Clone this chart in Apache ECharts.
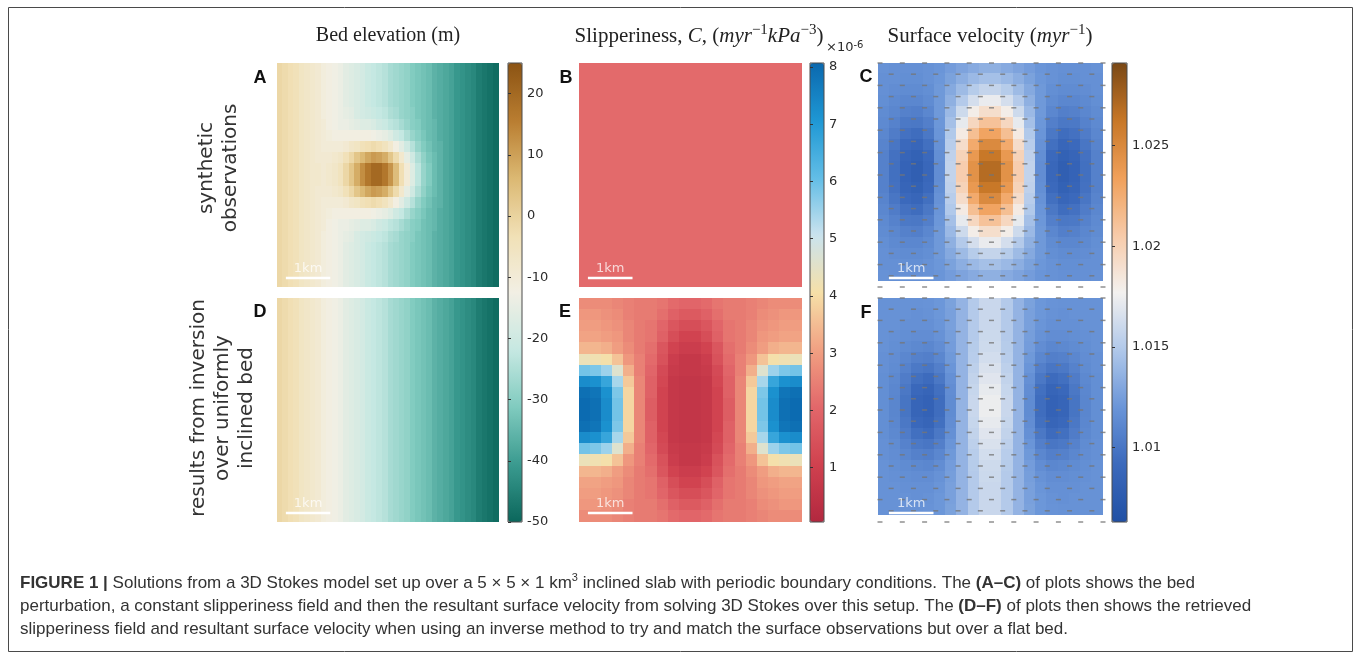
<!DOCTYPE html>
<html><head><meta charset="utf-8">
<script src="https://cdn.jsdelivr.net/npm/echarts@6/dist/echarts.min.js"></script>
<style>html,body{margin:0;padding:0;background:#fff}#chart{width:1360px;height:654px}</style>
</head><body><div id="chart"></div>
<script>
// ---------------- DATA ----------------
// Bed elevation (m), synthetic observations: 40 columns x 20 rows (row 0 = top)
const bedElevationObs = [
[-1,-2,-3,-4,-6,-7,-8,-9,-11,-12,-13,-14,-16,-17,-18,-19,-21,-22,-23,-24,-26,-27,-28,-29,-31,-32,-33,-34,-36,-37,-38,-39,-41,-42,-43,-44,-46,-47,-48,-49],
[-1,-2,-3,-4,-6,-7,-8,-9,-11,-12,-13,-14,-16,-17,-18,-19,-21,-22,-23,-24,-26,-27,-28,-29,-31,-32,-33,-34,-36,-37,-38,-39,-41,-42,-43,-44,-46,-47,-48,-49],
[-1,-2,-3,-4,-6,-7,-8,-9,-11,-12,-13,-14,-16,-17,-18,-19,-21,-22,-23,-24,-26,-27,-28,-29,-31,-32,-33,-34,-36,-37,-38,-39,-41,-42,-43,-44,-46,-47,-48,-49],
[-1,-2,-3,-4,-6,-7,-8,-9,-11,-12,-13,-14,-16,-17,-18,-19,-21,-22,-23,-24,-26,-27,-28,-29,-31,-32,-33,-34,-36,-37,-38,-39,-41,-42,-43,-44,-46,-47,-48,-49],
[-1,-2,-3,-4,-6,-7,-8,-9,-11,-12,-13,-14,-15,-16,-18,-19,-20,-21,-22,-23,-25,-26,-28,-29,-30,-32,-33,-34,-36,-37,-38,-39,-41,-42,-43,-44,-46,-47,-48,-49],
[-1,-2,-3,-4,-6,-7,-8,-9,-10,-12,-13,-14,-14,-15,-16,-17,-17,-18,-20,-21,-23,-24,-26,-28,-30,-31,-33,-34,-35,-37,-38,-39,-41,-42,-43,-44,-46,-47,-48,-49],
[-1,-2,-3,-4,-6,-7,-8,-9,-10,-11,-12,-12,-12,-12,-12,-12,-12,-13,-14,-15,-17,-20,-22,-25,-28,-30,-32,-34,-35,-37,-38,-39,-41,-42,-43,-44,-46,-47,-48,-49],
[-1,-2,-3,-4,-6,-7,-8,-9,-10,-10,-10,-10,-9,-7,-6,-4,-3,-2,-3,-5,-8,-12,-16,-20,-24,-28,-31,-33,-35,-36,-38,-39,-41,-42,-43,-44,-46,-47,-48,-49],
[-1,-2,-3,-4,-6,-7,-8,-9,-9,-9,-8,-7,-4,-1,3,6,9,11,10,8,3,-2,-8,-15,-20,-25,-29,-32,-34,-36,-38,-39,-41,-42,-43,-44,-46,-47,-48,-49],
[-1,-2,-3,-4,-6,-7,-8,-8,-9,-8,-7,-5,-1,3,8,13,17,20,20,17,12,5,-3,-10,-17,-23,-28,-31,-34,-36,-38,-39,-41,-42,-43,-44,-46,-47,-48,-49],
[-1,-2,-3,-4,-6,-7,-8,-8,-9,-8,-7,-5,-1,3,8,13,17,20,20,17,12,5,-3,-10,-17,-23,-28,-31,-34,-36,-38,-39,-41,-42,-43,-44,-46,-47,-48,-49],
[-1,-2,-3,-4,-6,-7,-8,-9,-9,-9,-8,-7,-4,-1,3,6,9,11,10,8,3,-2,-8,-15,-20,-25,-29,-32,-34,-36,-38,-39,-41,-42,-43,-44,-46,-47,-48,-49],
[-1,-2,-3,-4,-6,-7,-8,-9,-10,-10,-10,-10,-9,-7,-6,-4,-3,-2,-3,-5,-8,-12,-16,-20,-24,-28,-31,-33,-35,-36,-38,-39,-41,-42,-43,-44,-46,-47,-48,-49],
[-1,-2,-3,-4,-6,-7,-8,-9,-10,-11,-12,-12,-12,-12,-12,-12,-12,-13,-14,-15,-17,-20,-22,-25,-28,-30,-32,-34,-35,-37,-38,-39,-41,-42,-43,-44,-46,-47,-48,-49],
[-1,-2,-3,-4,-6,-7,-8,-9,-10,-12,-13,-14,-14,-15,-16,-17,-17,-18,-20,-21,-23,-24,-26,-28,-30,-31,-33,-34,-35,-37,-38,-39,-41,-42,-43,-44,-46,-47,-48,-49],
[-1,-2,-3,-4,-6,-7,-8,-9,-11,-12,-13,-14,-15,-16,-18,-19,-20,-21,-22,-23,-25,-26,-28,-29,-30,-32,-33,-34,-36,-37,-38,-39,-41,-42,-43,-44,-46,-47,-48,-49],
[-1,-2,-3,-4,-6,-7,-8,-9,-11,-12,-13,-14,-16,-17,-18,-19,-21,-22,-23,-24,-26,-27,-28,-29,-31,-32,-33,-34,-36,-37,-38,-39,-41,-42,-43,-44,-46,-47,-48,-49],
[-1,-2,-3,-4,-6,-7,-8,-9,-11,-12,-13,-14,-16,-17,-18,-19,-21,-22,-23,-24,-26,-27,-28,-29,-31,-32,-33,-34,-36,-37,-38,-39,-41,-42,-43,-44,-46,-47,-48,-49],
[-1,-2,-3,-4,-6,-7,-8,-9,-11,-12,-13,-14,-16,-17,-18,-19,-21,-22,-23,-24,-26,-27,-28,-29,-31,-32,-33,-34,-36,-37,-38,-39,-41,-42,-43,-44,-46,-47,-48,-49],
[-1,-2,-3,-4,-6,-7,-8,-9,-11,-12,-13,-14,-16,-17,-18,-19,-21,-22,-23,-24,-26,-27,-28,-29,-31,-32,-33,-34,-36,-37,-38,-39,-41,-42,-43,-44,-46,-47,-48,-49]
];
// Bed elevation used for the inversion: uniformly inclined, constant along y (one row, 40 columns)
const bedElevationInv = [-1,-2,-3,-4,-6,-7,-8,-9,-11,-12,-13,-14,-16,-17,-18,-19,-21,-22,-23,-24,-26,-27,-28,-29,-31,-32,-33,-34,-36,-37,-38,-39,-41,-42,-43,-44,-46,-47,-48,-49];
// Slipperiness (x1e-6), synthetic: constant field
const slipperinessObs = 2.1;
// Slipperiness (x1e-6), retrieved by inversion: 20 x 20
const slipperinessInv = [
[2.7,2.7,2.7,2.6,2.5,2.4,2.4,2.3,2.1,2.0,2.0,2.1,2.3,2.4,2.4,2.5,2.6,2.7,2.7,2.7],
[2.9,2.9,2.8,2.7,2.5,2.4,2.4,2.2,1.9,1.7,1.7,1.9,2.2,2.4,2.4,2.5,2.7,2.8,2.9,2.9],
[3.0,3.0,2.9,2.8,2.6,2.4,2.3,2.0,1.6,1.4,1.4,1.6,2.0,2.3,2.4,2.6,2.8,2.9,3.0,3.0],
[3.1,3.1,3.0,2.9,2.6,2.4,2.3,1.9,1.4,1.1,1.1,1.4,1.9,2.3,2.4,2.6,2.9,3.0,3.1,3.1],
[3.4,3.4,3.3,3.0,2.7,2.4,2.2,1.6,1.1,0.9,0.9,1.1,1.6,2.2,2.4,2.7,3.0,3.3,3.4,3.4],
[4.3,4.2,4.1,3.6,2.9,2.5,2.1,1.5,0.9,0.7,0.7,0.9,1.5,2.1,2.5,2.9,3.6,4.1,4.2,4.3],
[5.9,5.8,5.5,4.6,3.3,2.5,2.0,1.3,0.8,0.7,0.7,0.8,1.3,2.0,2.5,3.3,4.6,5.5,5.8,5.9],
[7.3,7.2,6.7,5.4,3.7,2.6,1.9,1.2,0.7,0.6,0.6,0.7,1.2,1.9,2.6,3.7,5.4,6.7,7.2,7.3],
[7.9,7.8,7.2,5.8,3.9,2.6,1.9,1.1,0.7,0.6,0.6,0.7,1.1,1.9,2.6,3.9,5.8,7.2,7.8,7.9],
[8.0,7.9,7.3,5.9,3.9,2.6,1.8,1.1,0.7,0.6,0.6,0.7,1.1,1.8,2.6,3.9,5.9,7.3,7.9,8.0],
[8.0,7.9,7.3,5.9,3.9,2.6,1.8,1.1,0.7,0.6,0.6,0.7,1.1,1.8,2.6,3.9,5.9,7.3,7.9,8.0],
[7.9,7.8,7.2,5.8,3.9,2.6,1.9,1.1,0.7,0.6,0.6,0.7,1.1,1.9,2.6,3.9,5.8,7.2,7.8,7.9],
[7.3,7.2,6.7,5.4,3.7,2.6,1.9,1.2,0.7,0.6,0.6,0.7,1.2,1.9,2.6,3.7,5.4,6.7,7.2,7.3],
[5.9,5.8,5.5,4.6,3.3,2.5,2.0,1.3,0.8,0.7,0.7,0.8,1.3,2.0,2.5,3.3,4.6,5.5,5.8,5.9],
[4.3,4.2,4.1,3.6,2.9,2.5,2.1,1.5,0.9,0.7,0.7,0.9,1.5,2.1,2.5,2.9,3.6,4.1,4.2,4.3],
[3.4,3.4,3.3,3.0,2.7,2.4,2.2,1.6,1.1,0.9,0.9,1.1,1.6,2.2,2.4,2.7,3.0,3.3,3.4,3.4],
[3.1,3.1,3.0,2.9,2.6,2.4,2.3,1.9,1.4,1.1,1.1,1.4,1.9,2.3,2.4,2.6,2.9,3.0,3.1,3.1],
[3.0,3.0,2.9,2.8,2.6,2.4,2.3,2.0,1.6,1.4,1.4,1.6,2.0,2.3,2.4,2.6,2.8,2.9,3.0,3.0],
[2.9,2.9,2.8,2.7,2.5,2.4,2.4,2.2,1.9,1.7,1.7,1.9,2.2,2.4,2.4,2.5,2.7,2.8,2.9,2.9],
[2.7,2.7,2.7,2.6,2.5,2.4,2.4,2.3,2.1,2.0,2.0,2.1,2.3,2.4,2.4,2.5,2.6,2.7,2.7,2.7]
];
// Surface velocity (m/yr), synthetic observations: 20 x 20
const velocityObs = [
[1.0118,1.0117,1.0117,1.0117,1.0118,1.0120,1.0124,1.0128,1.0132,1.0135,1.0135,1.0132,1.0128,1.0124,1.0120,1.0118,1.0117,1.0117,1.0117,1.0118],
[1.0117,1.0117,1.0116,1.0116,1.0118,1.0121,1.0127,1.0134,1.0140,1.0144,1.0144,1.0140,1.0134,1.0127,1.0121,1.0118,1.0116,1.0116,1.0117,1.0117],
[1.0117,1.0115,1.0114,1.0114,1.0116,1.0122,1.0131,1.0141,1.0151,1.0157,1.0157,1.0151,1.0141,1.0131,1.0122,1.0116,1.0114,1.0114,1.0115,1.0117],
[1.0116,1.0113,1.0111,1.0111,1.0114,1.0122,1.0135,1.0150,1.0164,1.0173,1.0173,1.0164,1.0150,1.0135,1.0122,1.0114,1.0111,1.0111,1.0113,1.0116],
[1.0114,1.0111,1.0107,1.0106,1.0111,1.0122,1.0140,1.0161,1.0180,1.0191,1.0191,1.0180,1.0161,1.0140,1.0122,1.0111,1.0106,1.0107,1.0111,1.0114],
[1.0113,1.0108,1.0102,1.0101,1.0106,1.0121,1.0144,1.0172,1.0196,1.0211,1.0211,1.0196,1.0172,1.0144,1.0121,1.0106,1.0101,1.0102,1.0108,1.0113],
[1.0111,1.0104,1.0097,1.0094,1.0101,1.0120,1.0149,1.0182,1.0213,1.0231,1.0231,1.0213,1.0182,1.0149,1.0120,1.0101,1.0094,1.0097,1.0104,1.0111],
[1.0109,1.0100,1.0091,1.0088,1.0096,1.0118,1.0152,1.0192,1.0227,1.0249,1.0249,1.0227,1.0192,1.0152,1.0118,1.0096,1.0088,1.0091,1.0100,1.0109],
[1.0107,1.0097,1.0087,1.0083,1.0091,1.0116,1.0155,1.0199,1.0239,1.0262,1.0262,1.0239,1.0199,1.0155,1.0116,1.0091,1.0083,1.0087,1.0097,1.0107],
[1.0107,1.0096,1.0085,1.0080,1.0089,1.0115,1.0156,1.0203,1.0244,1.0269,1.0269,1.0244,1.0203,1.0156,1.0115,1.0089,1.0080,1.0085,1.0096,1.0107],
[1.0107,1.0096,1.0085,1.0080,1.0089,1.0115,1.0156,1.0203,1.0244,1.0269,1.0269,1.0244,1.0203,1.0156,1.0115,1.0089,1.0080,1.0085,1.0096,1.0107],
[1.0107,1.0097,1.0087,1.0083,1.0091,1.0116,1.0155,1.0199,1.0239,1.0262,1.0262,1.0239,1.0199,1.0155,1.0116,1.0091,1.0083,1.0087,1.0097,1.0107],
[1.0109,1.0100,1.0091,1.0088,1.0096,1.0118,1.0152,1.0192,1.0227,1.0249,1.0249,1.0227,1.0192,1.0152,1.0118,1.0096,1.0088,1.0091,1.0100,1.0109],
[1.0111,1.0104,1.0097,1.0094,1.0101,1.0120,1.0149,1.0182,1.0213,1.0231,1.0231,1.0213,1.0182,1.0149,1.0120,1.0101,1.0094,1.0097,1.0104,1.0111],
[1.0113,1.0108,1.0102,1.0101,1.0106,1.0121,1.0144,1.0172,1.0196,1.0211,1.0211,1.0196,1.0172,1.0144,1.0121,1.0106,1.0101,1.0102,1.0108,1.0113],
[1.0114,1.0111,1.0107,1.0106,1.0111,1.0122,1.0140,1.0161,1.0180,1.0191,1.0191,1.0180,1.0161,1.0140,1.0122,1.0111,1.0106,1.0107,1.0111,1.0114],
[1.0116,1.0113,1.0111,1.0111,1.0114,1.0122,1.0135,1.0150,1.0164,1.0173,1.0173,1.0164,1.0150,1.0135,1.0122,1.0114,1.0111,1.0111,1.0113,1.0116],
[1.0117,1.0115,1.0114,1.0114,1.0116,1.0122,1.0131,1.0141,1.0151,1.0157,1.0157,1.0151,1.0141,1.0131,1.0122,1.0116,1.0114,1.0114,1.0115,1.0117],
[1.0117,1.0117,1.0116,1.0116,1.0118,1.0121,1.0127,1.0134,1.0140,1.0144,1.0144,1.0140,1.0134,1.0127,1.0121,1.0118,1.0116,1.0116,1.0117,1.0117],
[1.0118,1.0117,1.0117,1.0117,1.0118,1.0120,1.0124,1.0128,1.0132,1.0135,1.0135,1.0132,1.0128,1.0124,1.0120,1.0118,1.0117,1.0117,1.0117,1.0118]
];
// Surface velocity (m/yr) from the inversion over the inclined bed: 20 x 20
const velocityInv = [
[1.0118,1.0118,1.0118,1.0118,1.0119,1.0121,1.0127,1.0137,1.0150,1.0159,1.0159,1.0150,1.0137,1.0127,1.0121,1.0119,1.0118,1.0118,1.0118,1.0118],
[1.0118,1.0118,1.0118,1.0117,1.0118,1.0121,1.0126,1.0137,1.0150,1.0159,1.0159,1.0150,1.0137,1.0126,1.0121,1.0118,1.0117,1.0118,1.0118,1.0118],
[1.0118,1.0118,1.0117,1.0117,1.0117,1.0120,1.0126,1.0137,1.0150,1.0159,1.0159,1.0150,1.0137,1.0126,1.0120,1.0117,1.0117,1.0117,1.0118,1.0118],
[1.0118,1.0117,1.0116,1.0115,1.0115,1.0118,1.0125,1.0137,1.0150,1.0160,1.0160,1.0150,1.0137,1.0125,1.0118,1.0115,1.0115,1.0116,1.0117,1.0118],
[1.0118,1.0116,1.0114,1.0112,1.0111,1.0115,1.0124,1.0137,1.0151,1.0161,1.0161,1.0151,1.0137,1.0124,1.0115,1.0111,1.0112,1.0114,1.0116,1.0118],
[1.0117,1.0115,1.0111,1.0107,1.0106,1.0111,1.0122,1.0137,1.0152,1.0163,1.0163,1.0152,1.0137,1.0122,1.0111,1.0106,1.0107,1.0111,1.0115,1.0117],
[1.0117,1.0114,1.0108,1.0102,1.0100,1.0106,1.0120,1.0137,1.0154,1.0166,1.0166,1.0154,1.0137,1.0120,1.0106,1.0100,1.0102,1.0108,1.0114,1.0117],
[1.0116,1.0112,1.0104,1.0096,1.0093,1.0101,1.0117,1.0137,1.0156,1.0169,1.0169,1.0156,1.0137,1.0117,1.0101,1.0093,1.0096,1.0104,1.0112,1.0116],
[1.0116,1.0111,1.0101,1.0090,1.0087,1.0096,1.0115,1.0137,1.0158,1.0172,1.0172,1.0158,1.0137,1.0115,1.0096,1.0087,1.0090,1.0101,1.0111,1.0116],
[1.0116,1.0110,1.0099,1.0087,1.0084,1.0094,1.0114,1.0137,1.0159,1.0174,1.0174,1.0159,1.0137,1.0114,1.0094,1.0084,1.0087,1.0099,1.0110,1.0116],
[1.0116,1.0110,1.0099,1.0087,1.0084,1.0094,1.0114,1.0137,1.0159,1.0174,1.0174,1.0159,1.0137,1.0114,1.0094,1.0084,1.0087,1.0099,1.0110,1.0116],
[1.0116,1.0111,1.0101,1.0090,1.0087,1.0096,1.0115,1.0137,1.0158,1.0172,1.0172,1.0158,1.0137,1.0115,1.0096,1.0087,1.0090,1.0101,1.0111,1.0116],
[1.0116,1.0112,1.0104,1.0096,1.0093,1.0101,1.0117,1.0137,1.0156,1.0169,1.0169,1.0156,1.0137,1.0117,1.0101,1.0093,1.0096,1.0104,1.0112,1.0116],
[1.0117,1.0114,1.0108,1.0102,1.0100,1.0106,1.0120,1.0137,1.0154,1.0166,1.0166,1.0154,1.0137,1.0120,1.0106,1.0100,1.0102,1.0108,1.0114,1.0117],
[1.0117,1.0115,1.0111,1.0107,1.0106,1.0111,1.0122,1.0137,1.0152,1.0163,1.0163,1.0152,1.0137,1.0122,1.0111,1.0106,1.0107,1.0111,1.0115,1.0117],
[1.0118,1.0116,1.0114,1.0112,1.0111,1.0115,1.0124,1.0137,1.0151,1.0161,1.0161,1.0151,1.0137,1.0124,1.0115,1.0111,1.0112,1.0114,1.0116,1.0118],
[1.0118,1.0117,1.0116,1.0115,1.0115,1.0118,1.0125,1.0137,1.0150,1.0160,1.0160,1.0150,1.0137,1.0125,1.0118,1.0115,1.0115,1.0116,1.0117,1.0118],
[1.0118,1.0118,1.0117,1.0117,1.0117,1.0120,1.0126,1.0137,1.0150,1.0159,1.0159,1.0150,1.0137,1.0126,1.0120,1.0117,1.0117,1.0117,1.0118,1.0118],
[1.0118,1.0118,1.0118,1.0117,1.0118,1.0121,1.0126,1.0137,1.0150,1.0159,1.0159,1.0150,1.0137,1.0126,1.0121,1.0118,1.0117,1.0118,1.0118,1.0118],
[1.0118,1.0118,1.0118,1.0118,1.0119,1.0121,1.0127,1.0137,1.0150,1.0159,1.0159,1.0150,1.0137,1.0127,1.0121,1.0119,1.0118,1.0118,1.0118,1.0118]
];
// Colour-bar ranges and tick labels
const bedRange = [-50, 25];
const bedTicks = [-50, -40, -30, -20, -10, 0, 10, 20];
const slipRange = [0.05, 8.07];
const slipTicks = [1, 2, 3, 4, 5, 6, 7, 8];
const velRange = [1.0063, 1.0291];
const velTicks = [1.01, 1.015, 1.02, 1.025];
// Quiver sample locations (km) in panels C and F, staggered rows
const quiverRowsKm = [5, 4.75, 4.5, 4.25, 4, 3.75, 3.5, 3.25, 3, 2.75, 2.5, 2.25, 2, 1.75, 1.5, 1.25, 1, 0.75, 0.5, 0.25, 0];
const quiverColsWide = [0, 0.5, 1, 1.5, 2, 2.5, 3, 3.5, 4, 4.5, 5];
const quiverColsNarrow = [0.25, 0.75, 1.25, 1.75, 2.25, 2.75, 3.25, 3.75, 4.25, 4.75];
// 1 km scale bar (km)
const scaleBarKm = [0.2, 1.2];
const scaleBarYKm = 0.2;

// ---------------- STYLE / LAYOUT ----------------
const BED_COLORS = ['#0b675c','#3a9a8f','#80cbbf','#c6e8e2','#f2efe4','#f1e0b5','#dbb872','#b97d30','#8b5313'];
const SLIP_COLORS = ['#b2283f','#d0414f','#e2676a','#f1a082','#f6e0a8','#cae3ee','#62bde6','#1e97d4','#0b68ae'];
const VEL_COLORS = ['#2150a4','#3b69bc','#6a95d8','#b0c8ea','#f3f1ef','#f7caa8','#f0a05a','#c77727','#7a4816'];
const SANS = 'DejaVu Sans', SERIF = 'Liberation Serif', CAP = 'Liberation Sans';
const NROW = 20;
const indexList = n => Array.from({length: n}, (_, i) => i);

// [left, top, width, height, columns]
const heatRects = [
  [277, 63, 222, 224, bedElevationInv.length],   // A
  [579, 63, 223, 224, 20],                       // B
  [878, 63, 225, 218, velocityObs[0].length],    // C
  [277, 298, 222, 224, bedElevationInv.length],  // D
  [579, 298, 223, 224, slipperinessInv[0].length], // E
  [878, 298, 225, 217, velocityInv[0].length]    // F
];
const overRects = [
  [277, 63, 222, 224],
  [579, 63, 223, 224],
  [880, 63, 223, 224],
  [277, 298, 222, 224],
  [579, 298, 223, 224],
  [880, 298, 223, 224]
];
const cbarRects = [
  [508, 63, 14, 459],
  [810, 63, 14, 459],
  [1112, 63, 15, 459]
];

function gridCells(rows) { const out = []; rows.forEach((row, j) => row.forEach((v, i) => out.push([i, j, v]))); return out; }
function sameRowCells(row, nRows) { const out = []; for (let j = 0; j < nRows; j++) row.forEach((v, i) => out.push([i, j, v])); return out; }
function constCells(v, nCols, nRows) { const out = []; for (let j = 0; j < nRows; j++) for (let i = 0; i < nCols; i++) out.push([i, j, v]); return out; }
function quiverPoints() {
  const pts = [];
  quiverRowsKm.forEach((y, k) => (k % 2 === 0 ? quiverColsWide : quiverColsNarrow).forEach(x => pts.push([x, y])));
  return pts;
}
// one cell of a field, snapped to whole pixels so neighbouring cells leave no seams
function renderCell(params, api) {
  const c = api.coord([api.value(0), api.value(1)]);
  const s = api.size([1, 1]);
  const x0 = Math.floor(c[0] - s[0] / 2), y0 = Math.floor(c[1] - s[1] / 2);
  const x1 = Math.ceil(c[0] + s[0] / 2), y1 = Math.ceil(c[1] + s[1] / 2);
  return {type: 'rect', shape: {x: x0, y: y0, width: x1 - x0, height: y1 - y0}, style: {fill: api.visual('color')}};
}

const grids = [], xAxes = [], yAxes = [];
heatRects.forEach((r, g) => {
  grids.push({left: r[0], top: r[1], width: r[2], height: r[3], show: false});
  xAxes.push({type: 'category', gridIndex: g, data: indexList(r[4]), show: false});
  yAxes.push({type: 'category', gridIndex: g, data: indexList(NROW), inverse: true, show: false});
});
overRects.forEach((r) => {
  const g = grids.length;
  grids.push({left: r[0], top: r[1], width: r[2], height: r[3], show: false});
  xAxes.push({type: 'value', gridIndex: g, min: 0, max: 5, show: false});
  yAxes.push({type: 'value', gridIndex: g, min: 0, max: 5, show: false});
});
const cbarDefs = [
  {range: bedRange, ticks: bedTicks, fmt: v => String(v)},
  {range: slipRange, ticks: slipTicks, fmt: v => String(v)},
  {range: velRange, ticks: velTicks, fmt: v => String(+v.toFixed(3))}
];
cbarRects.forEach((r, k) => {
  const g = grids.length;
  grids.push({left: r[0], top: r[1], width: r[2], height: r[3], show: true, borderColor: '#4a4a4a', borderWidth: 1, backgroundColor: 'transparent', z: 10});
  xAxes.push({type: 'value', gridIndex: g, show: false});
  const d = cbarDefs[k];
  yAxes.push({type: 'value', gridIndex: g, position: 'right', min: d.range[0], max: d.range[1],
    axisLine: {show: false}, splitLine: {show: false},
    axisTick: {show: true, customValues: d.ticks, length: 3, lineStyle: {color: '#333', width: 1}},
    axisLabel: {show: true, customValues: d.ticks, formatter: d.fmt, color: '#2b2b2b', fontSize: 13, fontFamily: SANS, margin: 5},
    z: 10});
});

const fieldBase = {type: 'custom', silent: true, renderItem: renderCell, encode: {x: 0, y: 1}, clip: true};
const series = [
  Object.assign({}, fieldBase, {name: 'A', xAxisIndex: 0, yAxisIndex: 0, data: gridCells(bedElevationObs)}),
  Object.assign({}, fieldBase, {name: 'D', xAxisIndex: 3, yAxisIndex: 3, data: sameRowCells(bedElevationInv, NROW)}),
  Object.assign({}, fieldBase, {name: 'B', xAxisIndex: 1, yAxisIndex: 1, data: constCells(slipperinessObs, 20, NROW)}),
  Object.assign({}, fieldBase, {name: 'E', xAxisIndex: 4, yAxisIndex: 4, data: gridCells(slipperinessInv)}),
  Object.assign({}, fieldBase, {name: 'C', xAxisIndex: 2, yAxisIndex: 2, data: gridCells(velocityObs)}),
  Object.assign({}, fieldBase, {name: 'F', xAxisIndex: 5, yAxisIndex: 5, data: gridCells(velocityInv)})
];
[8, 11].forEach(ax => series.push({type: 'scatter', silent: true, xAxisIndex: ax, yAxisIndex: ax, data: quiverPoints(),
  symbol: 'rect', symbolSize: [5, 1.5], itemStyle: {color: '#767676'}, z: 5}));
[6, 7, 8, 9, 10, 11].forEach(ax => {
  series.push({type: 'line', silent: true, xAxisIndex: ax, yAxisIndex: ax,
    data: [[scaleBarKm[0], scaleBarYKm], [scaleBarKm[1], scaleBarYKm]], symbol: 'none',
    lineStyle: {color: '#ffffff', width: 2.5}, z: 6});
  series.push({type: 'scatter', silent: true, xAxisIndex: ax, yAxisIndex: ax,
    data: [[(scaleBarKm[0] + scaleBarKm[1]) / 2, scaleBarYKm + 0.22]], symbolSize: 1,
    itemStyle: {color: 'transparent'},
    label: {show: true, position: 'inside', formatter: '1km', color: 'rgba(255,255,255,0.92)', fontSize: 13, fontFamily: SANS}, z: 6});
});

const visualMaps = [
  {range: bedRange, colors: BED_COLORS, series: [0, 1], rect: cbarRects[0]},
  {range: slipRange, colors: SLIP_COLORS, series: [2, 3], rect: cbarRects[1]},
  {range: velRange, colors: VEL_COLORS, series: [4, 5], rect: cbarRects[2]}
].map(v => ({type: 'continuous', seriesIndex: v.series, dimension: 2, min: v.range[0], max: v.range[1],
  inRange: {color: v.colors}, orient: 'vertical', left: v.rect[0], top: v.rect[1],
  itemWidth: v.rect[2], itemHeight: v.rect[3], calculable: false, hoverLink: false, padding: 0, show: true}));

const serifRich = {
  r: {fontSize: 20, fontFamily: SERIF, fill: '#222', lineHeight: 26},
  i: {fontSize: 20, fontFamily: SERIF, fontStyle: 'italic', fill: '#222', lineHeight: 26},
  s: {fontSize: 14, fontFamily: SERIF, fill: '#222', lineHeight: 14, verticalAlign: 'top'}
};
const serifRichWide = {
  r: {fontSize: 21, fontFamily: SERIF, fill: '#222', lineHeight: 26},
  i: {fontSize: 21, fontFamily: SERIF, fontStyle: 'italic', fill: '#222', lineHeight: 26},
  s: {fontSize: 15, fontFamily: SERIF, fill: '#222', lineHeight: 14, verticalAlign: 'top'}
};
const capRich = {
  b: {fontSize: 17, fontFamily: CAP, fontWeight: 'bold', fill: '#333', lineHeight: 22},
  s: {fontSize: 11, fontFamily: CAP, fill: '#333', lineHeight: 11, verticalAlign: 'top'}
};
function letter(t, x, y) { return {type: 'text', x, y, silent: true, style: {text: t, font: 'bold 18px "' + CAP + '"', fill: '#111', align: 'center', verticalAlign: 'middle'}}; }
function capLine(t, y) { return {type: 'text', x: 20, y, silent: true, style: {text: t, rich: capRich, fontSize: 17, fontFamily: CAP, fill: '#333', lineHeight: 22, align: 'left', verticalAlign: 'middle'}}; }

const graphic = [
  {type: 'rect', silent: true, shape: {x: 8.5, y: 7.5, width: 1344, height: 644}, style: {fill: 'none', stroke: '#4a4a4a', lineWidth: 1}},
  {type: 'text', x: 388, y: 36, silent: true, style: {text: '{r|Bed elevation (m)}', rich: serifRich, align: 'center', verticalAlign: 'middle'}},
  {type: 'text', x: 699, y: 36, silent: true, style: {text: '{r|Slipperiness, }{i|C}{r|, (}{i|myr}{s|\u22121}{i|kPa}{s|\u22123}{r|)}', rich: serifRichWide, align: 'center', verticalAlign: 'middle'}},
  {type: 'text', x: 990, y: 36, silent: true, style: {text: '{r|Surface velocity (}{i|myr}{s|\u22121}{r|)}', rich: serifRichWide, align: 'center', verticalAlign: 'middle'}},
  {type: 'text', x: 826, y: 48, silent: true, style: {text: '{a|\u00d710}{b|-6}', rich: {a: {fontSize: 13, fontFamily: SANS, fill: '#2b2b2b', lineHeight: 16}, b: {fontSize: 10, fontFamily: SANS, fill: '#2b2b2b', lineHeight: 10, verticalAlign: 'top'}}, align: 'left', verticalAlign: 'middle'}},
  letter('A', 260, 78), letter('B', 566, 78), letter('C', 866, 77),
  letter('D', 260, 312), letter('E', 565, 312), letter('F', 866, 313),
  {type: 'text', x: 219, y: 168, rotation: Math.PI / 2, silent: true, style: {text: 'synthetic\nobservations', font: '20px "' + SANS + '"', fill: '#333', lineHeight: 24, align: 'center', verticalAlign: 'middle'}},
  {type: 'text', x: 223, y: 408, rotation: Math.PI / 2, silent: true, style: {text: 'results from inversion\nover uniformly\ninclined bed', font: '20px "' + SANS + '"', fill: '#333', lineHeight: 24, align: 'center', verticalAlign: 'middle'}},
  capLine('{b|FIGURE 1 |} Solutions from a 3D Stokes model set up over a 5 \u00d7 5 \u00d7 1 km{s|3} inclined slab with periodic boundary conditions. The {b|(A\u2013C)} of plots shows the bed', 583),
  capLine('perturbation, a constant slipperiness field and then the resultant surface velocity from solving 3D Stokes over this setup. The {b|(D\u2013F)} of plots then shows the retrieved', 606),
  capLine('slipperiness field and resultant surface velocity when using an inverse method to try and match the surface observations but over a flat bed.', 629)
];

const chart = echarts.init(document.getElementById('chart'), null, {renderer: 'canvas'});
chart.setOption({
  animation: false,
  backgroundColor: '#ffffff',
  textStyle: {fontFamily: SANS},
  grid: grids, xAxis: xAxes, yAxis: yAxes,
  visualMap: visualMaps,
  series: series,
  graphic: graphic
});
</script></body></html>
